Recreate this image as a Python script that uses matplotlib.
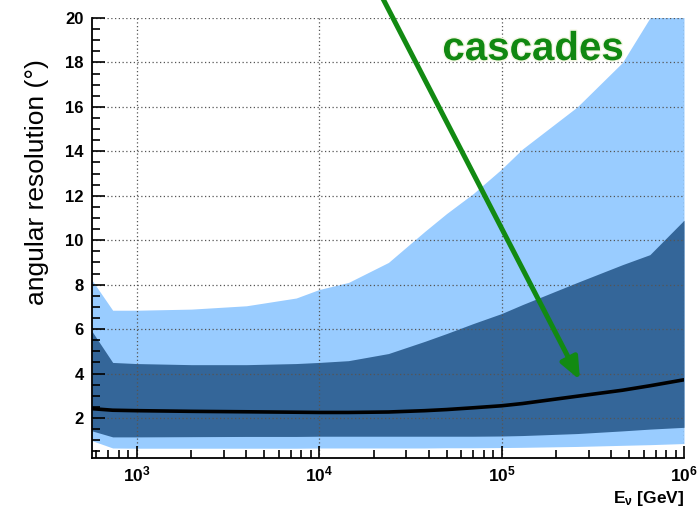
import numpy as np
import matplotlib
matplotlib.use('Agg')
import matplotlib.pyplot as plt
from matplotlib.ticker import MultipleLocator, LogLocator, FuncFormatter, NullFormatter
import matplotlib.patheffects as pe

plt.rcParams['font.family'] = ['Liberation Sans', 'DejaVu Sans']
plt.rcParams['mathtext.fontset'] = 'custom'
plt.rcParams['mathtext.rm'] = 'Liberation Sans:bold'
plt.rcParams['mathtext.bf'] = 'Liberation Sans:bold'
plt.rcParams['mathtext.it'] = 'Liberation Sans:bold'

# neutrino energy (GeV)
energy = [570, 740, 1000, 2000, 4000, 7500, 10000, 14500, 24000, 38000,
          50000, 70000, 100000, 130000, 260000, 460000, 650000, 1000000]
# outer band (light)
light_hi = [8.2, 6.85, 6.85, 6.9, 7.05, 7.4, 7.78, 8.1, 9.0, 10.4,
            11.2, 12.1, 13.2, 14.1, 16.0, 18.0, 20.0, 23.0]
light_lo = [0.98, 0.65, 0.64, 0.64, 0.64, 0.64, 0.65, 0.65, 0.65, 0.65,
            0.66, 0.66, 0.67, 0.68, 0.72, 0.77, 0.80, 0.85]
# inner band (dark)
dark_hi = [5.9, 4.5, 4.45, 4.4, 4.4, 4.45, 4.5, 4.58, 4.9, 5.45,
           5.8, 6.25, 6.7, 7.1, 8.1, 8.9, 9.35, 10.9]
dark_lo = [1.42, 1.15, 1.15, 1.16, 1.17, 1.17, 1.18, 1.18, 1.18, 1.18,
           1.18, 1.18, 1.19, 1.21, 1.30, 1.42, 1.50, 1.58]
# median
median = [2.42, 2.35, 2.33, 2.30, 2.28, 2.26, 2.25, 2.25, 2.27, 2.33,
          2.38, 2.46, 2.55, 2.65, 2.98, 3.25, 3.45, 3.72]

light_col = '#99ccff'
dark_col = '#346699'

fig = plt.figure(figsize=(6.99, 5.08), dpi=100)
ax = fig.add_axes([92/699, 1-458/508, 592/699, 440/508])

ax.fill_between(energy, light_lo, light_hi, color=light_col, lw=0, zorder=1)
ax.fill_between(energy, dark_lo, dark_hi, color=dark_col, lw=0, zorder=1.5)
ax.plot(energy, median, color='black', lw=2.6, zorder=3)

ax.set_xscale('log')
ax.set_xlim(570, 1e6)
ax.set_ylim(0.2, 20)

ax.yaxis.set_major_locator(MultipleLocator(2))
ax.yaxis.set_minor_locator(MultipleLocator(0.5))
ax.xaxis.set_major_locator(LogLocator(base=10, numticks=10))
ax.xaxis.set_minor_locator(LogLocator(base=10, subs=np.arange(2, 10), numticks=20))
ax.xaxis.set_major_formatter(FuncFormatter(lambda v, p: r'$\mathbf{10^{%d}}$' % round(np.log10(v))))
ax.xaxis.set_minor_formatter(NullFormatter())

ax.tick_params(which='both', direction='in', top=False, right=False, width=1.2)
ax.tick_params(which='major', length=9)
ax.tick_params(which='minor', length=5.5)
ax.tick_params(axis='y', labelsize=12, pad=6)
ax.tick_params(axis='x', labelsize=12.5, pad=5)
for t in ax.get_yticklabels():
    t.set_fontweight('bold')

ax.spines['top'].set_visible(False)
ax.spines['right'].set_visible(False)
ax.spines['left'].set_linewidth(1.3)
ax.spines['bottom'].set_linewidth(1.3)

ax.set_axisbelow(False)
ax.grid(True, which='major', linestyle=(0, (1, 2)), color='#555555', lw=0.9)

fig.text(37/699, 1-182/508, u'angular resolution (\u00b0)', rotation=90,
         ha='center', va='center', fontsize=19)
fig.text(684/699, 1-503/508, r'E$_{\nu}$ [GeV]', ha='right', va='baseline',
         fontsize=12.5, fontweight='bold')

fig.text(533/699, 1-60/508, 'cascades', ha='center', va='baseline',
         fontsize=29, fontweight='bold', color='#118811',
         path_effects=[pe.withStroke(linewidth=2, foreground='#f4f7e4')])

ax.annotate('', xy=(580/699, 1-380/508), xytext=(381/699, 1.01),
            xycoords='figure fraction', textcoords='figure fraction',
            annotation_clip=False,
            arrowprops=dict(arrowstyle='-|>,head_length=1.3,head_width=0.55',
                            color='#128a12', lw=3.6, shrinkA=0, shrinkB=0))

plt.savefig('out.png', dpi=100)
